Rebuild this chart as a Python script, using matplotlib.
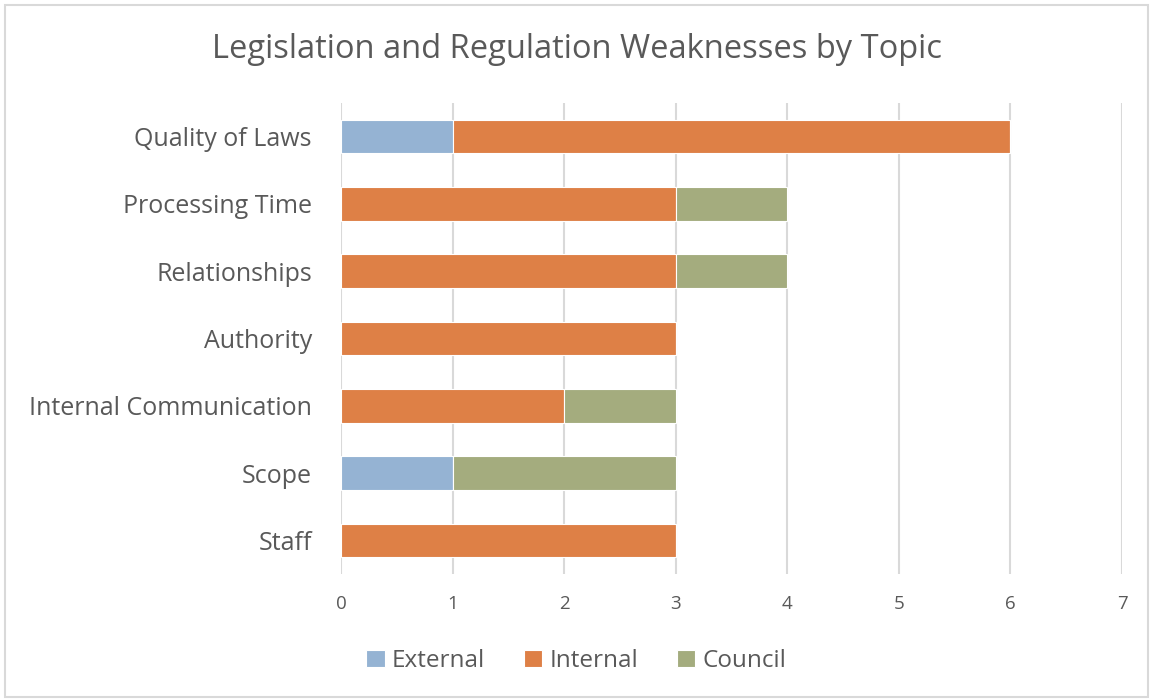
import matplotlib.pyplot as plt
import numpy as np
from matplotlib.patches import Rectangle

# Topics, bottom to top as they appear on the chart
topics = ["Staff", "Scope", "Internal Communication", "Authority",
          "Relationships", "Processing Time", "Quality of Laws"]
external = [0, 1, 0, 0, 0, 0, 1]
internal = [3, 0, 2, 3, 3, 3, 5]
council = [0, 2, 1, 0, 1, 1, 0]

series = [("External", external, "#95B3D3"),
          ("Internal", internal, "#DE8046"),
          ("Council", council, "#A4AC7E")]

text_color = "#595959"
plt.rcParams["font.family"] = ["Open Sans", "DejaVu Sans"]

fig = plt.figure(figsize=(11.53, 7), dpi=100)
ax = fig.add_axes([341 / 1153, 1 - 574 / 700, 781 / 1153, 471 / 700])

y = np.arange(len(topics))
left = np.zeros(len(topics))
for name, vals, color in series:
    vals = np.array(vals, dtype=float)
    ax.barh(y, vals, left=left, height=0.5, color=color, label=name,
            edgecolor="white", linewidth=0.8, zorder=3)
    left += vals

ax.set_xlim(0, 7)
ax.set_ylim(-0.5, len(topics) - 0.5)
ax.set_xticks(range(8))
ax.set_yticks(y)
ax.set_yticklabels(topics)
ax.grid(axis="x", color="#D9D9D9", linewidth=1.5, zorder=0)
for s in ax.spines.values():
    s.set_visible(False)
ax.tick_params(axis="both", length=0, colors=text_color)
ax.tick_params(axis="y", labelsize=18, pad=21)
ax.tick_params(axis="x", labelsize=13.5, pad=15)

fig.text(0.5, 1 - 49 / 700, "Legislation and Regulation Weaknesses by Topic",
         ha="center", va="center", fontsize=23.5, color=text_color)

leg = fig.legend(loc="center", bbox_to_anchor=(0.5, 1 - 661 / 700), ncol=3,
                 frameon=False, fontsize=17.5, handlelength=0.75, handleheight=0.75,
                 handletextpad=0.3, columnspacing=1.6)
for t in leg.get_texts():
    t.set_color(text_color)

# light outline around the chart area
fig.patches.append(Rectangle((5 / 1153, 3 / 700), 1143 / 1153, 692 / 700,
                             transform=fig.transFigure, fill=False,
                             edgecolor="#D9D9D9", linewidth=1.5))

fig.savefig("out.png", dpi=100)
